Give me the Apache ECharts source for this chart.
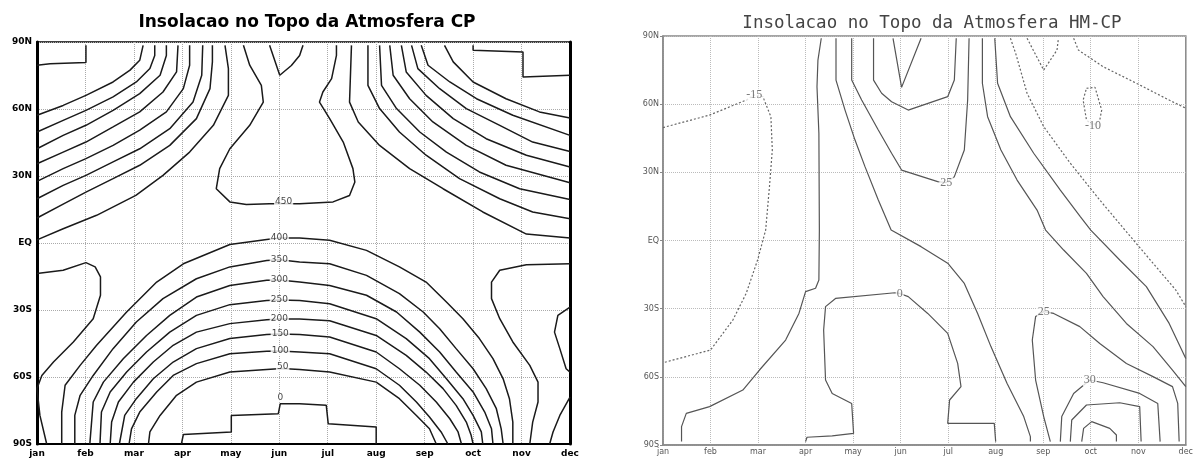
<!DOCTYPE html>
<html>
<head>
<meta charset="utf-8">
<script src="https://cdn.jsdelivr.net/npm/echarts@6/dist/echarts.min.js"></script>
<style>
html,body{margin:0;padding:0;background:#fff}
#chart{width:1196px;height:459px}
</style>
</head>
<body>
<div id="chart"></div>
<script>
// axes
const months = ['jan','feb','mar','apr','may','jun','jul','aug','sep','oct','nov','dec'];
const latTicks = [-90,-60,-30,0,30,60,90];
const latNames = ['90S','60S','30S','EQ','30N','60N','90N'];

// ---- left panel: CP (x = month index, y = latitude) ----
const cpN0a = [[0,79.6],[0.27,80.3],[1.01,80.8],[1.01,88.5]];
const cpN50a = [[0,57.2],[0.54,61.6],[1.01,66.1],[1.57,72.1],[1.92,77.4],[2.12,81.8],[2.19,88.5]];
const cpN100a = [[0,49.7],[0.54,54.9],[1.01,59.4],[1.57,65.4],[2.05,72.1],[2.33,78.1],[2.43,84.0],[2.43,88.5]];
const cpN150a = [[0,42.2],[0.54,48.2],[1.01,52.7],[1.57,59.4],[2.12,66.9],[2.54,75.1],[2.67,84.0],[2.67,88.5]];
const cpN200a = [[0,35.5],[0.54,40.7],[1.01,45.2],[1.57,52.0],[2.12,58.7],[2.60,67.6],[2.88,76.6],[2.91,88.5]];
const cpN250a = [[0,27.6],[0.54,33.3],[1.01,37.8],[1.57,43.7],[2.12,50.5],[2.67,58.7],[3.02,69.1],[3.15,79.6],[3.15,88.5]];
const cpN300a = [[0,19.8],[0.54,25.8],[1.01,30.3],[1.57,36.3],[2.12,42.2],[2.74,51.2],[3.22,63.1],[3.40,75.1],[3.42,88.5]];
const cpN350a = [[0,11.2],[0.54,17.4],[1.01,22.8],[1.57,28.8],[2.12,34.8],[2.74,43.7],[3.29,55.7],[3.57,69.1],[3.62,81.1],[3.62,88.5]];
const cpN400a = [[0,1.4],[0.54,6.4],[1.23,12.4],[2.04,21.3],[2.60,30.3],[3.15,40.7],[3.64,52.7],[3.95,66.1],[3.95,78.1],[3.88,88.5]];
const cp450N = [[4.26,88.5],[4.39,79.6],[4.63,70.6],[4.67,63.1],[4.39,52.7],[3.98,42.2],[3.77,33.3],[3.70,24.3],[3.98,18.4],[4.32,17.2],[4.80,17.6],[5.42,17.6],[6.11,18.4],[6.45,21.3],[6.56,27.3],[6.52,33.3],[6.32,45.2],[6.04,55.7],[5.83,63.1],[5.90,67.6],[6.08,73.6],[6.18,84.0],[6.18,88.5]];
const cp500N = [[4.80,88.5],[5.01,75.1],[5.25,79.5],[5.42,84.0],[5.49,88.5]];
const cpN400b = [[6.49,88.5],[6.45,63.1],[6.63,54.2],[7.07,43.7],[7.69,33.3],[8.38,24.3],[9.20,13.9],[10.10,4.0],[11,2.2]];
const cpN350b = [[6.83,88.5],[6.83,70.6],[7.07,60.2],[7.48,49.7],[8.03,39.3],[8.72,28.8],[9.55,19.8],[10.23,13.9],[11,10.9]];
const cpN300b = [[7.07,88.5],[7.11,70.6],[7.42,60.2],[7.90,49.7],[8.45,40.7],[9.13,31.8],[9.96,24.3],[11,19.5]];
const cpN250b = [[7.28,88.5],[7.35,75.1],[7.69,64.6],[8.17,54.2],[8.86,43.7],[9.68,34.8],[11,27.0]];
const cpN200b = [[7.52,88.5],[7.62,76.6],[8.03,66.1],[8.59,55.7],[9.27,46.7],[10.10,39.3],[11,34.0]];
const cpN150b = [[7.73,88.5],[7.86,78.1],[8.31,69.1],[8.86,60.2],[9.55,52.7],[10.23,45.2],[11,41.0]];
const cpN100b = [[7.93,88.5],[8.07,79.6],[8.52,72.1],[9.07,64.6],[9.82,57.2],[11,48.2]];
const cpN50b = [[8.41,88.5],[8.59,81.1],[9.0,72.1],[9.68,64.6],[10.37,58.7],[11,56.0]];
const cpN0b = [[9.0,88.5],[9.0,86.3],[10.03,85.5],[10.03,74.3],[11,75.1]];
const cpS400 = [[0.51,-90],[0.51,-75.7],[0.58,-63.7],[0.89,-54.8],[1.23,-45.8],[1.85,-30.9],[2.47,-17.5],[3.02,-9.3],[3.98,-0.7],[4.74,1.6],[5.0,2.2],[5.42,2.2],[6.04,1.2],[6.80,-3.3],[7.48,-10.7],[8.03,-17.5],[8.45,-26.4],[8.79,-33.9],[9.13,-42.8],[9.41,-51.8],[9.62,-60.8],[9.75,-69.7],[9.82,-80.2],[9.82,-90]];
const cpS350 = [[0.78,-90],[0.78,-77.2],[0.89,-68.2],[1.16,-59.3],[1.57,-47.3],[2.05,-35.4],[2.60,-24.9],[3.29,-16.0],[3.98,-10.7],[4.74,-7.8],[5.0,-7.5],[5.42,-8.5],[6.04,-9.3],[6.80,-14.5],[7.48,-22.7],[7.97,-30.9],[8.31,-38.4],[8.65,-47.3],[9.00,-56.3],[9.27,-65.2],[9.48,-74.2],[9.58,-83.2],[9.62,-90]];
const cpS300 = [[1.09,-90],[1.16,-71.2],[1.37,-62.3],[1.78,-51.8],[2.26,-41.4],[2.74,-32.4],[3.29,-24.2],[3.98,-19.0],[4.74,-16.7],[5.0,-16.6],[5.42,-17.5],[6.04,-19.0],[6.80,-23.4],[7.42,-30.9],[7.90,-39.9],[8.31,-48.8],[8.65,-57.8],[9.0,-66.7],[9.24,-75.7],[9.38,-83.2],[9.41,-90]];
const cpS250 = [[1.30,-90],[1.33,-75.7],[1.51,-66.7],[1.85,-57.8],[2.26,-48.8],[2.74,-39.9],[3.29,-32.4],[3.98,-27.6],[4.74,-25.7],[5.0,-25.5],[5.42,-25.7],[6.04,-27.2],[7.0,-33.9],[7.62,-42.8],[8.10,-51.8],[8.45,-60.8],[8.79,-69.7],[9.0,-77.2],[9.17,-84.6],[9.20,-90]];
const cpS200 = [[1.51,-90],[1.54,-80.2],[1.68,-71.2],[1.99,-62.3],[2.40,-53.3],[2.81,-45.8],[3.29,-39.9],[3.98,-36.1],[4.74,-34.4],[5.0,-34.0],[5.42,-34.0],[6.04,-34.8],[7.0,-41.4],[7.62,-50.3],[8.03,-57.8],[8.38,-65.2],[8.65,-72.7],[8.86,-80.2],[8.96,-86.1],[9.0,-90]];
const cpS150 = [[1.70,-90],[1.81,-77.2],[2.05,-69.7],[2.40,-60.8],[2.81,-53.3],[3.29,-47.3],[3.98,-42.8],[4.74,-41.0],[5.0,-40.8],[5.42,-41.0],[6.04,-42.1],[7.0,-48.8],[7.48,-56.3],[7.90,-63.7],[8.24,-71.2],[8.52,-78.7],[8.69,-84.6],[8.76,-90]];
const cpS100 = [[1.90,-90],[1.95,-83.2],[2.12,-75.7],[2.47,-66.7],[2.81,-59.3],[3.29,-54.0],[3.98,-49.6],[4.74,-48.5],[5.0,-48.4],[5.42,-48.8],[6.04,-49.6],[7.0,-56.3],[7.48,-63.7],[7.83,-71.2],[8.10,-77.9],[8.34,-84.6],[8.48,-90]];
const cpS50 = [[2.30,-90],[2.33,-84.6],[2.54,-77.2],[2.88,-68.2],[3.29,-62.3],[3.98,-57.8],[4.74,-56.6],[5.05,-56.2],[5.42,-56.6],[6.04,-57.8],[7.0,-62.3],[7.48,-69.7],[7.83,-77.2],[8.10,-83.2],[8.24,-90]];
const cpS0 = [[2.98,-90],[3.02,-85.8],[4.01,-84.6],[4.01,-77.2],[4.98,-76.4],[5.02,-72.0],[5.42,-72.0],[5.97,-72.7],[6.01,-80.9],[7.0,-82.4],[7.0,-90]];
const cpS450a = [[0,-13.7],[0.54,-12.2],[1.01,-8.8],[1.20,-10.7],[1.31,-15.2],[1.31,-23.4],[1.16,-33.9],[0.75,-44.3],[0.34,-53.3],[0.10,-59.3],[0,-65.2],[0.06,-77.2],[0.20,-90]];
const cpS450b = [[11,-9.3],[10.10,-9.7],[9.55,-12.2],[9.38,-17.5],[9.38,-24.9],[9.55,-33.9],[9.82,-44.3],[10.17,-54.8],[10.34,-62.3],[10.34,-71.2],[10.23,-80.2],[10.17,-90]];
const cpS500a = [[11,-69.0],[10.79,-77.2],[10.65,-84.6],[10.58,-90]];
const cpS500b = [[11,-28.7],[10.75,-32.4],[10.68,-39.9],[10.79,-47.3],[10.92,-56.3],[11,-57.8]];
const cpLabels = [[5.09,18.4,'450'],[5.0,2.2,'400'],[5.0,-7.5,'350'],[5.0,-16.6,'300'],[5.0,-25.5,'250'],[5.0,-34.0,'200'],[5.02,-40.8,'150'],[5.02,-48.4,'100'],[5.07,-55.3,'50'],[5.02,-69.3,'0']];

// ---- right panel: HM-CP ----
const hmNeg15 = [[0,49.7],[0.98,55.2],[1.75,61.8],[1.92,64.0],[2.10,63.3],[2.27,54.5],[2.30,39.8],[2.24,23.7],[2.16,4.6],[1.99,-8.6],[1.75,-23.3],[1.47,-35.0],[1.0,-48.2],[0,-53.8]];
const hmApr = [[3.33,89],[3.26,79.4],[3.24,67.7],[3.28,47.2],[3.29,4.6],[3.28,-17.4],[3.21,-21.0],[3.0,-22.5],[2.86,-32.1],[2.58,-43.8],[2.03,-57.0],[1.68,-65.8],[0.98,-73.1],[0.49,-76.1],[0.39,-81.9],[0.39,-88.5]];
const hm0 = [[3.0,-88.5],[3.03,-86.6],[3.56,-86.0],[4.01,-84.9],[3.97,-71.7],[3.56,-67.3],[3.42,-61.4],[3.38,-39.4],[3.42,-29.1],[3.63,-25.5],[4.88,-23.0],[4.98,-23.3],[5.16,-24.7],[5.57,-32.1],[5.99,-40.9],[6.20,-54.1],[6.27,-64.3],[6.03,-70.2],[5.99,-80.5],[6.97,-80.5],[7.0,-88.5]];
const hmMid = [[3.64,89],[3.64,70.6],[3.83,57.4],[4.04,44.2],[4.25,32.5],[4.53,17.8],[4.80,4.6],[5.43,-2.7],[5.99,-10.0],[6.34,-18.9],[6.62,-32.1],[6.90,-46.7],[7.24,-62.9],[7.59,-77.5],[7.73,-86.3],[7.73,-88.5]];
const hm25a = [[3.97,89],[3.97,70.6],[4.18,61.8],[4.53,48.6],[4.81,38.4],[5.02,31.0],[5.78,25.9],[5.96,25.5],[6.13,28.1],[6.34,39.8],[6.41,61.8],[6.44,89]];
const hmU = [[4.43,89],[4.43,70.6],[4.60,64.8],[4.81,61.1],[5.16,57.4],[5.99,63.3],[6.13,70.6],[6.17,89]];
const hmV = [[4.84,89],[5.02,67.4],[5.43,89]];
const hmL1 = [[6.72,89],[6.72,69.2],[6.83,54.5],[7.11,39.8],[7.45,26.6],[7.87,13.4],[8.05,4.6],[8.43,-4.2],[8.91,-14.5],[9.26,-24.7],[9.75,-36.5],[10.31,-46.7],[10.72,-57.0],[11,-64.3]];
const hmL2 = [[6.98,89],[7.04,69.2],[7.31,54.5],[7.80,38.4],[8.36,22.2],[8.78,10.5],[9.0,4.6],[9.61,-8.6],[10.17,-20.3],[10.65,-36.5],[11,-51.9]];
const hmDot1 = [[7.31,89],[7.42,82.4],[7.66,64.8],[8.01,50.1],[8.57,34.0],[9.19,17.8],[9.72,4.6],[10.31,-10.0],[10.79,-21.8],[11,-29.1]];
const hmDotV = [[7.66,89],[8.01,75.0],[8.29,83.8],[8.32,89]];
const hmDot2 = [[8.64,89],[8.74,83.8],[9.26,76.5],[9.96,69.2],[10.65,61.8],[11,58.2]];
const hmNeg10 = [[8.91,67.0],[9.09,67.4],[9.23,57.4],[9.19,53.0],[9.05,50.8],[8.91,53.0],[8.84,61.8],[8.91,67.0]];
const hm25b = [[8.15,-88.5],[8.01,-77.5],[7.84,-61.4],[7.77,-43.8],[7.84,-33.5],[8.01,-31.3],[8.22,-32.1],[8.77,-37.9],[9.19,-45.3],[9.75,-54.1],[10.31,-59.9],[10.72,-64.3],[10.83,-71.7],[10.86,-88.5]];
const hm30 = [[8.36,-88.5],[8.39,-77.5],[8.64,-67.3],[8.98,-61.4],[9.26,-62.6],[10.03,-67.3],[10.41,-71.7],[10.46,-88.5]];
const hmLoopA = [[8.57,-88.5],[8.60,-79.0],[8.91,-72.4],[9.61,-71.4],[10.03,-73.1],[10.06,-88.5]];
const hmLoopB = [[8.81,-88.5],[8.85,-82.7],[9.02,-79.7],[9.40,-82.7],[9.54,-85.6],[9.54,-88.5]];
const hmLabels = [[1.92,64.3,'-15'],[9.05,50.5,'-10'],[5.96,25.5,'25'],[4.98,-23.3,'0'],[8.01,-31.3,'25'],[8.98,-61.4,'30']];

const cpStyle = {color:'#1a1a1a', width:1.5};
const hmSolid = {color:'#555', width:1.2};
const hmDotted = {color:'#666', width:1.2, type:[2,2]};

function contour(data, panel, style) {
  return {
    type:'line', xAxisIndex:panel, yAxisIndex:panel === 0 ? 0 : 2,
    data:data, symbol:'none', silent:true, lineStyle:style, z:2
  };
}
function labels(data, panel, textStyle) {
  return {
    type:'scatter', xAxisIndex:panel, yAxisIndex:panel === 0 ? 0 : 2,
    data:data, symbolSize:1, silent:true, itemStyle:{color:'rgba(0,0,0,0)'}, z:5,
    label:Object.assign({show:true, position:'inside', formatter:p => p.value[2],
      backgroundColor:'#fff', padding:[0,1]}, textStyle)
  };
}

const cpSeries = [cpN0a,cpN50a,cpN100a,cpN150a,cpN200a,cpN250a,cpN300a,cpN350a,cpN400a,cp450N,cp500N,
  cpN400b,cpN350b,cpN300b,cpN250b,cpN200b,cpN150b,cpN100b,cpN50b,cpN0b,
  cpS400,cpS350,cpS300,cpS250,cpS200,cpS150,cpS100,cpS50,cpS0,cpS450a,cpS450b,cpS500a,cpS500b]
  .map(d => contour(d, 0, cpStyle));
const hmSeries = [hmApr,hm0,hmMid,hm25a,hmU,hmV,hmL1,hmL2,hm25b,hm30,hmLoopA,hmLoopB].map(d => contour(d, 1, hmSolid))
  .concat([hmNeg15,hmDot1,hmDotV,hmDot2,hmNeg10].map(d => contour(d, 1, hmDotted)));

const chart = echarts.init(document.getElementById('chart'));
chart.setOption({
  animation:false,
  backgroundColor:'#fff',
  title:[
    {text:'Insolacao no Topo da Atmosfera CP', left:302, top:9, textAlign:'center',
      textStyle:{fontFamily:'DejaVu Sans', fontWeight:'bold', fontSize:17, color:'#000'}},
    {text:'Insolacao no Topo da Atmosfera HM-CP', left:927, top:9, textAlign:'center',
      textStyle:{fontFamily:'DejaVu Sans Mono', fontWeight:'normal', fontSize:17.5, color:'#444'}}
  ],
  grid:[
    {left:37, top:42, width:533, height:402, show:true, borderColor:'#000', borderWidth:1.5},
    {left:663, top:36, width:527, height:409, show:true, borderColor:'#888', borderWidth:1.5}
  ],
  xAxis:[
    {type:'value', gridIndex:0, min:0, max:11, interval:1,
      axisLine:{onZero:false, lineStyle:{color:'#000', width:2}}, axisTick:{show:false},
      splitLine:{show:true, lineStyle:{type:'dotted', color:'#aaa'}},
      axisLabel:{formatter:v => months[v], fontFamily:'DejaVu Sans', fontWeight:'bold', fontSize:9, color:'#000', margin:5}},
    {type:'value', gridIndex:1, min:0, max:11, interval:1,
      axisLine:{onZero:false, lineStyle:{color:'#888', width:1.5}}, axisTick:{show:false},
      splitLine:{show:true, lineStyle:{type:'dotted', color:'#bbb'}},
      axisLabel:{formatter:v => months[v], fontFamily:'DejaVu Sans', fontSize:8, color:'#555', margin:3}}
  ],
  yAxis:[
    {type:'value', gridIndex:0, min:-90, max:90, interval:30,
      axisLine:{show:true, onZero:false, lineStyle:{color:'#000', width:3}}, axisTick:{show:false},
      splitLine:{show:true, lineStyle:{type:'dotted', color:'#aaa'}},
      axisLabel:{formatter:v => latNames[latTicks.indexOf(v)], fontFamily:'DejaVu Sans', fontWeight:'bold', fontSize:9, color:'#000', margin:5}},
    {type:'value', gridIndex:0, position:'right', min:-90, max:90, interval:30,
      axisLine:{show:true, onZero:false, lineStyle:{color:'#000', width:3}}, axisTick:{show:false},
      splitLine:{show:false}, axisLabel:{show:false}},
    {type:'value', gridIndex:1, min:-90, max:90, interval:30,
      axisLine:{show:true, onZero:false, lineStyle:{color:'#888', width:1.5}}, axisTick:{show:true, length:3, lineStyle:{color:'#888'}},
      splitLine:{show:true, lineStyle:{type:'dotted', color:'#bbb'}},
      axisLabel:{formatter:v => latNames[latTicks.indexOf(v)], fontFamily:'DejaVu Sans', fontSize:8, color:'#555', margin:4}}
  ],
  series:cpSeries.concat(hmSeries).concat([
    labels(cpLabels, 0, {fontFamily:'DejaVu Sans', fontSize:9, color:'#111'}),
    labels(hmLabels, 1, {fontFamily:'Liberation Serif', fontSize:12, color:'#555'})
  ])
});
</script>
</body>
</html>
